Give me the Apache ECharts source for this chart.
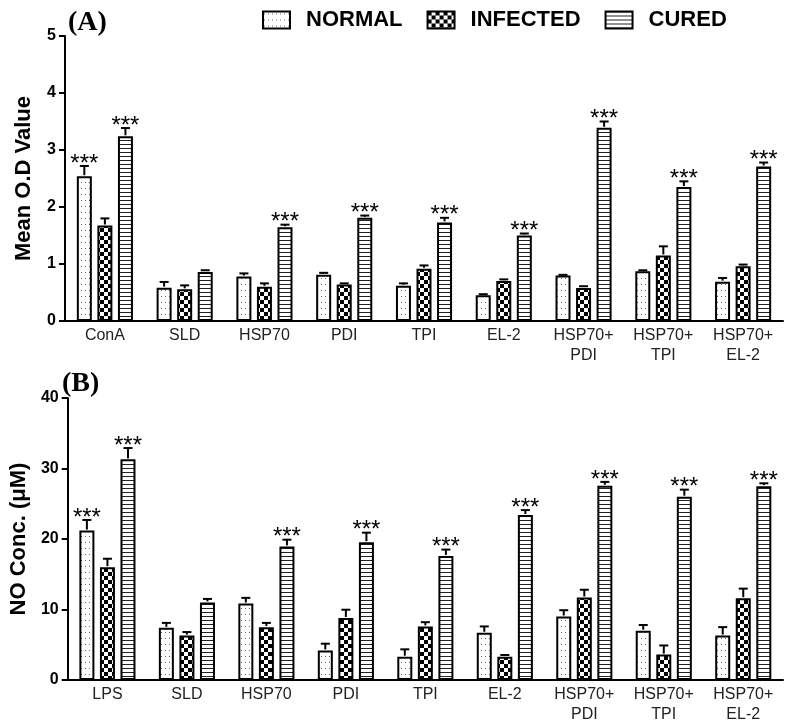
<!DOCTYPE html>
<html>
<head>
<meta charset="utf-8">
<script src="https://cdn.jsdelivr.net/npm/echarts@6/dist/echarts.min.js"></script>
<style>
html,body{margin:0;padding:0;background:#fff;}
#chart{width:798px;height:725px;}
</style>
</head>
<body>
<div id="chart"></div>
<script>
// ---------- DATA ----------
const seriesNames = ['NORMAL', 'INFECTED', 'CURED'];
const categoriesA = ['ConA', 'SLD', 'HSP70', 'PDI', 'TPI', 'EL-2', 'HSP70+\nPDI', 'HSP70+\nTPI', 'HSP70+\nEL-2'];
const categoriesB = ['LPS', 'SLD', 'HSP70', 'PDI', 'TPI', 'EL-2', 'HSP70+\nPDI', 'HSP70+\nTPI', 'HSP70+\nEL-2'];

// Panel A: Mean O.D value
const normalA      = [2.54, 0.585, 0.78, 0.81, 0.62, 0.45, 0.80, 0.875, 0.69];
const normalAErr   = [0.18, 0.10, 0.055, 0.035, 0.04, 0.02, 0.01, 0.015, 0.065];
const infectedA    = [1.675, 0.555, 0.60, 0.64, 0.915, 0.70, 0.58, 1.15, 0.96];
const infectedAErr = [0.125, 0.07, 0.06, 0.02, 0.06, 0.03, 0.03, 0.16, 0.03];
const curedA       = [3.24, 0.86, 1.645, 1.81, 1.73, 1.50, 3.39, 2.35, 2.71];
const curedAErr    = [0.145, 0.03, 0.045, 0.04, 0.08, 0.035, 0.11, 0.10, 0.07];

// Panel B: NO concentration (uM)
const normalB      = [21.2, 7.4, 10.85, 4.2, 3.3, 6.7, 9.0, 7.0, 6.3];
const normalBErr   = [1.5, 0.7, 0.8, 0.95, 1.05, 0.9, 0.9, 0.8, 1.2];
const infectedB    = [16.0, 6.3, 7.5, 8.8, 7.6, 3.3, 11.7, 3.6, 11.6];
const infectedBErr = [1.2, 0.5, 0.6, 1.17, 0.6, 0.25, 1.1, 1.3, 1.36];
const curedB       = [31.3, 11.0, 18.95, 19.55, 17.6, 23.4, 27.55, 26.0, 27.5];
const curedBErr    = [1.6, 0.5, 0.95, 1.35, 0.9, 0.7, 0.55, 1.0, 0.4];

// significance markers (***)
const sigNormal   = [1, 0, 0, 0, 0, 0, 0, 0, 0];
const sigInfected = [0, 0, 0, 0, 0, 0, 0, 0, 0];
const sigCured    = [1, 0, 1, 1, 1, 1, 1, 1, 1];

const yTicksA = { min: 0, max: 5, interval: 1 };
const yTicksB = { min: 0, max: 40, interval: 10 };

// ---------- PATTERNS ----------
function makeCanvas(w, h, draw) {
  const c = document.createElement('canvas');
  c.width = w; c.height = h;
  const ctx = c.getContext('2d');
  ctx.fillStyle = '#fff'; ctx.fillRect(0, 0, w, h);
  draw(ctx);
  return c;
}
const dotPattern = makeCanvas(4, 6, ctx => { ctx.fillStyle = '#666'; ctx.fillRect(1, 2, 1, 1); });
const checkPattern = makeCanvas(8, 8, ctx => { ctx.fillStyle = '#000'; ctx.fillRect(0, 0, 4, 4); ctx.fillRect(4, 4, 4, 4); });
const stripePattern = makeCanvas(4, 4, ctx => { ctx.fillStyle = '#222'; ctx.fillRect(0, 0, 4, 1); });
const patterns = [dotPattern, checkPattern, stripePattern];

// ---------- BUILD ----------
const BAR_W = 15;
const BAR_GAP = '37%';
const OFFSET = BAR_W + BAR_W * 0.37;
const FONT = '"Liberation Sans", Arial, sans-serif';

function barSeries(name, data, idx, gi) {
  return {
    type: 'bar', name: name, data: data,
    xAxisIndex: gi, yAxisIndex: gi,
    barWidth: BAR_W, barGap: BAR_GAP,
    itemStyle: { color: { image: patterns[idx], repeat: 'repeat' }, borderColor: '#000', borderWidth: 2 },
    emphasis: { disabled: true },
    z: 2
  };
}

function errSeries(vals, errs, sigs, gi) {
  const data = [];
  for (let s = 0; s < 3; s++) {
    for (let i = 0; i < vals[s].length; i++) {
      data.push([i, vals[s][i], errs[s][i], s, sigs[s][i]]);
    }
  }
  return {
    type: 'custom', xAxisIndex: gi, yAxisIndex: gi, data: data, z: 5, silent: true,
    renderItem: function (params, api) {
      const cat = api.value(0), v = api.value(1), e = api.value(2), s = api.value(3), sig = api.value(4);
      const b = api.coord([cat, v]);
      const t = api.coord([cat, v + e]);
      const x = b[0] + (s - 1) * OFFSET;
      const children = [
        { type: 'line', shape: { x1: x, y1: b[1] - 1, x2: x, y2: t[1] }, style: { stroke: '#000', lineWidth: 2 } },
        { type: 'line', shape: { x1: x - 4.5, y1: t[1], x2: x + 4.5, y2: t[1] }, style: { stroke: '#000', lineWidth: 2 } }
      ];
      if (sig) {
        children.push({ type: 'text', style: { text: '***', x: x, y: t[1] - 2, align: 'center', verticalAlign: 'middle',
          font: '24px ' + FONT, fill: '#000' } });
      }
      return { type: 'group', children: children };
    }
  };
}

function xAxisCfg(cats, gi) {
  return {
    type: 'category', gridIndex: gi, data: cats,
    axisLine: { lineStyle: { color: '#000', width: 2 } },
    axisTick: { show: false },
    axisLabel: { color: '#222', fontSize: 16, fontFamily: FONT, margin: 5, interval: 0, lineHeight: 20 }
  };
}
function yAxisCfg(t, name, gi, gap) {
  return {
    type: 'value', gridIndex: gi, min: t.min, max: t.max, interval: t.interval,
    name: name, nameLocation: 'middle', nameGap: gap, nameRotate: 90,
    nameTextStyle: { fontSize: 22, fontWeight: 'bold', fontFamily: FONT, color: '#000' },
    axisLine: { show: true, lineStyle: { color: '#000', width: 2 } },
    axisTick: { show: true, length: 6, lineStyle: { color: '#000', width: 2 } },
    axisLabel: { color: '#000', fontSize: 16, fontWeight: 'bold', fontFamily: FONT, margin: 9 },
    splitLine: { show: false }
  };
}

const option = {
  animation: false,
  backgroundColor: '#fff',
  title: [
    { text: '(A)', left: 63, top: 4, textStyle: { fontFamily: '"Liberation Serif", "Times New Roman", serif', fontWeight: 'bold', fontSize: 28, color: '#000' } },
    { text: '(B)', left: 57, top: 365, textStyle: { fontFamily: '"Liberation Serif", "Times New Roman", serif', fontWeight: 'bold', fontSize: 28, color: '#000' } }
  ],
  legend: {
    data: seriesNames, left: 262, top: 9, orient: 'horizontal', padding: 0,
    itemWidth: 27, itemHeight: 17, itemGap: 24, icon: 'rect',
    selectedMode: false,
    textStyle: { fontSize: 22, fontWeight: 'bold', fontFamily: FONT, color: '#000', padding: [0, 0, 0, 11] }
  },
  grid: [
    { left: 65, width: 718, top: 36, height: 285 },
    { left: 65, width: 718, top: 398, height: 285 }
  ],
  xAxis: [xAxisCfg(categoriesA, 0), xAxisCfg(categoriesB, 1)],
  yAxis: [yAxisCfg(yTicksA, 'Mean O.D Value', 0, 30), yAxisCfg(yTicksB, 'NO Conc. (μM)', 1, 37)],
  series: [
    barSeries(seriesNames[0], normalA, 0, 0),
    barSeries(seriesNames[1], infectedA, 1, 0),
    barSeries(seriesNames[2], curedA, 2, 0),
    barSeries(seriesNames[0], normalB, 0, 1),
    barSeries(seriesNames[1], infectedB, 1, 1),
    barSeries(seriesNames[2], curedB, 2, 1),
    errSeries([normalA, infectedA, curedA], [normalAErr, infectedAErr, curedAErr], [sigNormal, sigInfected, sigCured], 0),
    errSeries([normalB, infectedB, curedB], [normalBErr, infectedBErr, curedBErr], [sigNormal, sigInfected, sigCured], 1)
  ]
};

const chart = echarts.init(document.getElementById('chart'), null, { renderer: 'canvas' });
chart.setOption(option);
</script>
</body>
</html>
